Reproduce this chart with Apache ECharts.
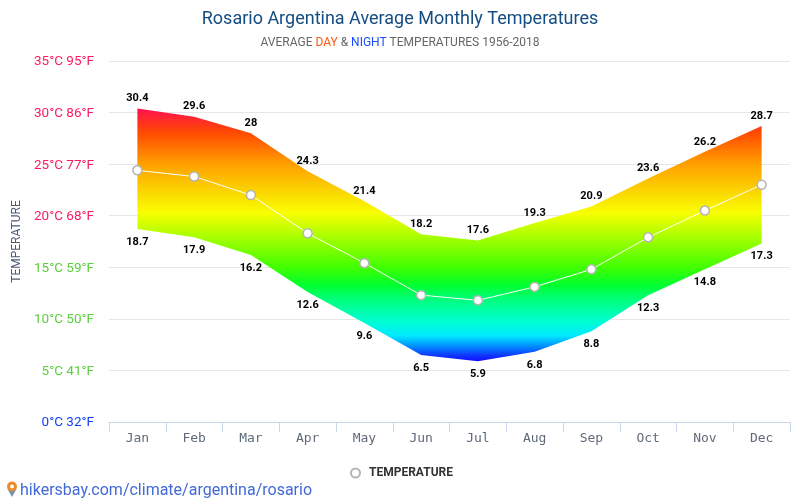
<!DOCTYPE html>
<html><head><meta charset="utf-8">
<style>html,body{margin:0;padding:0;background:#fff}#c{width:800px;height:500px}</style>
<script src="https://cdn.jsdelivr.net/npm/echarts@6/dist/echarts.min.js"></script>
</head><body><div id="c"></div>
<script>
const months=['Jan','Feb','Mar','Apr','May','Jun','Jul','Aug','Sep','Oct','Nov','Dec'];
const dayTemps=[30.4,29.6,28,24.3,21.4,18.2,17.6,19.3,20.9,23.6,26.2,28.7];
const nightTemps=[18.7,17.9,16.2,12.6,9.6,6.5,5.9,6.8,8.8,12.3,14.8,17.3];
const meanTemps=[24.4,23.8,22.0,18.3,15.4,12.3,11.8,13.1,14.8,17.9,20.5,23.0];
const tickColors={35:'#ff1a5e',30:'#ff1a5e',25:'#ff1a5e',20:'#ff1a5e',15:'#5ccf3c',10:'#5ccf3c',5:'#5ccf3c',0:'#0f3fff'};
const toF=c=>Math.round(c*9/5+32);
const chart=echarts.init(document.getElementById('c'),null,{renderer:'canvas'});
const font='Roboto';
const hiddenMark={symbol:'circle',symbolSize:1,showSymbol:true,itemStyle:{color:'rgba(0,0,0,0)'},lineStyle:{opacity:0},silent:true};
chart.setOption({
 animation:false,
 title:[{text:'Rosario Argentina Average Monthly Temperatures',left:'center',top:10,padding:0,
   textStyle:{fontFamily:font,fontSize:18,fontWeight:'normal',color:'#144d82'}},
  {text:'{g|AVERAGE }{d|DAY}{g| & }{n|NIGHT}{g| TEMPERATURES 1956-2018}',left:'center',top:37,padding:0,
   textStyle:{fontFamily:font,fontSize:12,fontWeight:'normal',rich:{g:{color:'#666',fontFamily:font,fontSize:12,fontWeight:'normal'},d:{color:'#ff5a12',fontFamily:font,fontSize:12,fontWeight:'normal'},n:{color:'#1a4cff',fontFamily:font,fontSize:12,fontWeight:'normal'}}}}],
 grid:{left:109,right:10,top:61,bottom:78},
 legend:{data:[{name:'TEMPERATURE',icon:'circle',itemStyle:{color:'#fff',borderColor:'#b5b5b5',borderWidth:2}}],
   top:462,left:345,itemWidth:17,itemHeight:9,textStyle:{fontFamily:font,fontSize:12,fontWeight:'bold',color:'#333'}},
 xAxis:{type:'category',data:months,boundaryGap:true,
   axisLine:{lineStyle:{color:'#ccd6eb'}},axisTick:{show:true,length:10,alignWithLabel:false,lineStyle:{color:'#ccd6eb'}},
   axisLabel:{fontFamily:'DejaVu Sans Mono',fontSize:13,color:'#5f6b7a',margin:10}},
 yAxis:{type:'value',min:0,max:35,interval:5,name:'TEMPERATURE',nameLocation:'middle',nameGap:82,nameRotate:90,
   nameTextStyle:{fontFamily:font,fontSize:12,color:'#4d5a75'},
   axisLine:{show:false},axisTick:{show:false},splitLine:{lineStyle:{color:'#e6e6e6'}},
   axisLabel:{fontFamily:font,fontSize:13.5,margin:15,lineHeight:2,verticalAlign:'top',
     color:v=>tickColors[Number(v)],
     formatter:v=>v+'°C '+toF(v)+'°F'}},
 series:[
  {name:'night',type:'line',data:nightTemps,stack:'band',...hiddenMark,z:6,
   label:{show:true,position:'bottom',distance:7,fontFamily:font,fontSize:11,fontWeight:'bold',color:'#000'}},
  {name:'band',type:'line',data:dayTemps.map((d,i)=>+(d-nightTemps[i]).toFixed(1)),stack:'band',symbol:'none',silent:true,lineStyle:{opacity:0},
   areaStyle:{opacity:1,color:new echarts.graphic.LinearGradient(0,0,0,1,[
     {offset:0,color:'#ff1050'},{offset:0.096,color:'#ff4a00'},{offset:0.22,color:'#ffa000'},
     {offset:0.414,color:'#f8ff00'},{offset:0.63,color:'#40ff00'},{offset:0.70,color:'#00ff30'},
     {offset:0.76,color:'#00ff80'},{offset:0.84,color:'#00ffd0'},{offset:0.90,color:'#00e8ff'},
     {offset:0.94,color:'#0090ff'},{offset:0.98,color:'#1030ff'},{offset:1,color:'#1010ff'}])}},
  {name:'day',type:'line',data:dayTemps,...hiddenMark,z:6,
   label:{show:true,position:'top',distance:4,fontFamily:font,fontSize:11,fontWeight:'bold',color:'#000'}},
  {name:'TEMPERATURE',type:'line',data:meanTemps,symbol:'circle',symbolSize:9,z:5,
   lineStyle:{color:'#fff',width:1},itemStyle:{color:'#fff',borderColor:'#b5b5b5',borderWidth:1.5}}
 ],
 graphic:[
  {type:'text',x:20,y:483,z:10,style:{text:'hikersbay.com/climate/argentina/rosario',fontFamily:font,fontSize:16,fill:'#4169d8'}},
  {type:'polygon',z:10,shape:{points:[[7.500,489],[16.500,489],[12,497]]},style:{fill:'#6f93b5'}},
  {type:'circle',z:11,shape:{cx:12,cy:486.500,r:3.500},style:{fill:'#fff',stroke:'#f08a28',lineWidth:3}}
 ]
});
</script></body></html>
